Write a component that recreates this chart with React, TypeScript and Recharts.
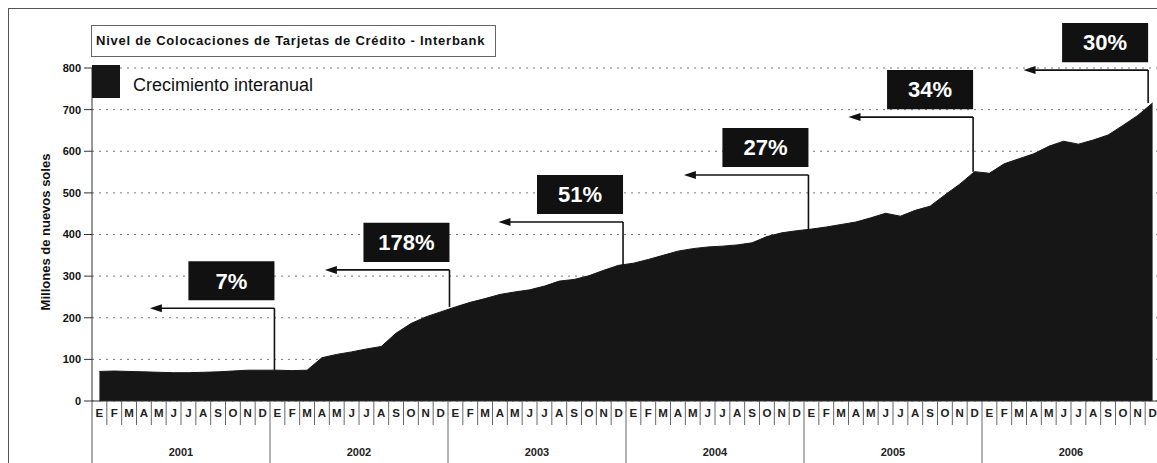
import { AreaChart, Area, XAxis, YAxis, CartesianGrid, ReferenceLine, ReferenceArea } from "recharts"

const MONTHS = ["E", "F", "M", "A", "M", "J", "J", "A", "S", "O", "N", "D"]
const YEARS = ["2001", "2002", "2003", "2004", "2005", "2006"]
const Y_TICKS = [0, 100, 200, 300, 400, 500, 600, 700, 800]

// millones de nuevos soles, E..D
const V2001 = [71, 72, 71, 70, 69, 68, 68, 69, 70, 72, 74, 74]
const V2002 = [74, 73, 74, 104, 112, 118, 125, 131, 163, 186, 202, 214]
const V2003 = [226, 237, 246, 256, 262, 267, 276, 288, 292, 301, 314, 326]
const V2004 = [331, 340, 350, 360, 366, 370, 372, 375, 380, 395, 404, 409]
const V2005 = [413, 418, 424, 430, 440, 451, 444, 458, 468, 495, 521, 551]
const V2006 = [547, 570, 582, 594, 612, 624, 617, 627, 639, 662, 686, 716]

// crecimiento interanual
const GROWTH = ["7%", "178%", "51%", "27%", "34%", "30%"]
const GROWTH_LEVEL = [223, 315, 430, 543, 682, 795]
const GROWTH_AT = [11.8, 23.6, 35.3, 47.8, 58.9, 70.7]

const VALUES = [...V2001, ...V2002, ...V2003, ...V2004, ...V2005, ...V2006]
const data = VALUES.map((v, i) => ({ i, v }))
const X_TICKS = VALUES.map((_, i) => i)

const FONT = "'Liberation Sans', Arial, sans-serif"
const SLOT = 1068 / 72
const INK = "#161616"

function MonthTick(props: any) {
  const { x, y, payload } = props
  const i = payload.value as number
  const right = x + SLOT / 2
  const yearEnd = i % 12 === 11
  return (
    <g>
      {i === 0 && <line x1={x - SLOT / 2} y1={y} x2={x - SLOT / 2} y2={y + 70} stroke="#555" />}
      <line x1={right} y1={y} x2={right} y2={y + (yearEnd ? 70 : 24)} stroke="#666" />
      <text x={x} y={y + 16} textAnchor="middle" fontFamily={FONT} fontSize={11.5} fontWeight="bold" fill="#222">
        {MONTHS[i % 12]}
      </text>
      {i % 12 === 5 && (
        <text x={right} y={y + 55} textAnchor="middle" fontFamily={FONT} fontSize={11} fontWeight="bold" fill="#222">
          {YEARS[Math.floor(i / 12)]}
        </text>
      )}
    </g>
  )
}

function Arrow(props: any) {
  const { x1, y1, x2, y2 } = props
  return (
    <g>
      <line x1={x1} y1={y1} x2={x2 + 10} y2={y2} stroke="#111" strokeWidth={1.6} />
      <polygon points={`${x2},${y2} ${x2 + 12},${y2 - 4} ${x2 + 12},${y2 + 4}`} fill="#111" />
    </g>
  )
}

export default function App() {
  return (
    <div style={{ position: "fixed", left: 8, top: 8, width: 1149, height: 455, overflow: "hidden", background: "#fff" }}>
      <div style={{ position: "absolute", left: 0, top: 0, width: 1300, height: 600, borderLeft: "1px solid #555", borderTop: "1px solid #555" }} />
      <AreaChart width={1160} height={455} data={data} margin={{ top: 60, right: 8, left: 0, bottom: 0 }}>
        <CartesianGrid vertical={false} stroke="#777" strokeDasharray="2 5" />
        <XAxis
          dataKey="i"
          type="number"
          domain={[-0.5, 71.5]}
          ticks={X_TICKS}
          interval={0}
          height={62}
          tickSize={0}
          tickMargin={0}
          tickLine={false}
          axisLine={{ stroke: "#333" }}
          tick={<MonthTick />}
        />
        <YAxis
          width={84}
          domain={[0, 800]}
          ticks={Y_TICKS}
          interval={0}
          tickSize={8}
          tickMargin={3}
          axisLine={{ stroke: "#333" }}
          tickLine={{ stroke: "#333" }}
          tick={{ fontFamily: FONT, fontSize: 11, fontWeight: "bold", fill: "#111" }}
        />
        <Area
          type="linear"
          dataKey="v"
          stroke={INK}
          fill={INK}
          fillOpacity={1}
          isAnimationActive={false}
        />
        {GROWTH.map((g, k) => {
          const at = GROWTH_AT[k]
          const lvl = GROWTH_LEVEL[k]
          const base = VALUES[Math.min(VALUES.length - 1, Math.round(at))]
          return [
            <ReferenceLine
              key={`v${k}`}
              segment={[{ x: at, y: base }, { x: at, y: lvl }]}
              stroke="#111"
              strokeWidth={1.6}
              ifOverflow="visible"
            />,
            <ReferenceLine
              key={`h${k}`}
              segment={[{ x: at, y: lvl }, { x: at - 8.4, y: lvl }]}
              shape={<Arrow />}
              ifOverflow="visible"
            />,
            <ReferenceArea
              key={`b${k}`}
              x1={at - 5.8}
              x2={at}
              y1={lvl + 19}
              y2={lvl + 113}
              fill="#111"
              fillOpacity={1}
              stroke="none"
              ifOverflow="visible"
              label={{ value: g, position: "center", fill: "#fff", fontFamily: FONT, fontSize: 22, fontWeight: "bold" }}
            />,
          ]
        })}
      </AreaChart>
      <div
        style={{
          position: "absolute", left: 83, top: 17, width: 399, height: 30,
          border: "1px solid #666", background: "#fff",
          fontFamily: FONT, fontSize: 13, fontWeight: "bold", color: "#111",
          lineHeight: "30px", paddingLeft: 4, letterSpacing: 0.75, whiteSpace: "nowrap", overflow: "hidden",
        }}
      >
        Nivel de Colocaciones de Tarjetas de Crédito - Interbank
      </div>
      <div style={{ position: "absolute", left: 84, top: 57, width: 28, height: 33, background: INK }} />
      <div style={{ position: "absolute", left: 125, top: 67, fontFamily: FONT, fontSize: 18, color: "#111", whiteSpace: "nowrap" }}>
        Crecimiento interanual
      </div>
      <div style={{ position: "absolute", left: 37, top: 224, width: 0, height: 0 }}>
        <div
          style={{
            position: "absolute", left: 0, top: 0, transform: "translate(-50%, -50%) rotate(-90deg)",
            fontFamily: FONT, fontSize: 13, fontWeight: "bold", color: "#111", whiteSpace: "nowrap",
          }}
        >
          Millones de nuevos soles
        </div>
      </div>
    </div>
  )
}
